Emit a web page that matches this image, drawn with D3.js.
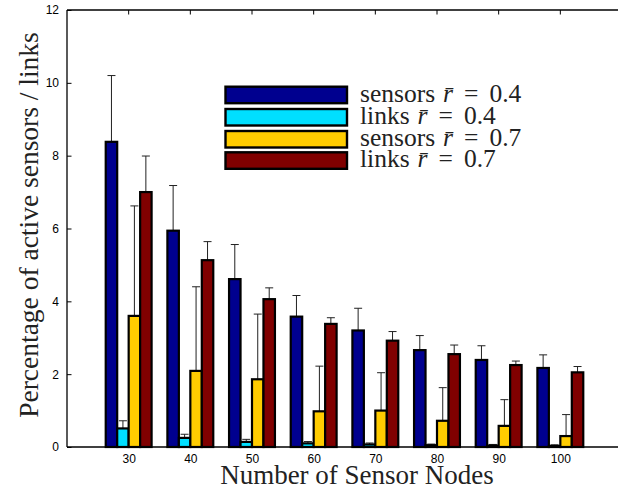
<!DOCTYPE html>
<html>
<head>
<meta charset="utf-8">
<script src="https://cdn.jsdelivr.net/npm/d3@7"></script>
<style>
  html, body { margin: 0; padding: 0; background: #fff; }
  svg { display: block; }
</style>
</head>
<body>
<svg id="chart" width="618" height="491"></svg>
<script>
// ---- data ----
const nodes = [30, 40, 50, 60, 70, 80, 90, 100];
const seriesNames = ["sensors r\u0304 = 0.4", "links r\u0304 = 0.4", "sensors r\u0304 = 0.7", "links r\u0304 = 0.7"];
const sensors04 = [8.38, 5.94, 4.61, 3.58, 3.20, 2.66, 2.39, 2.17];
const links04   = [0.51, 0.25, 0.14, 0.10, 0.07, 0.05, 0.04, 0.03];
const sensors07 = [3.60, 2.09, 1.86, 0.98, 1.00, 0.72, 0.58, 0.30];
const links07   = [7.00, 5.13, 4.06, 3.38, 2.92, 2.55, 2.25, 2.05];
const sensors04Err = [1.82, 1.24, 0.95, 0.58, 0.61, 0.40, 0.39, 0.36];
const links04Err   = [0.21, 0.10, 0.07, 0.05, 0.04, 0.03, 0.03, 0.03];
const sensors07Err = [3.02, 2.31, 1.79, 1.24, 1.04, 0.91, 0.72, 0.59];
const links07Err   = [0.99, 0.51, 0.31, 0.17, 0.25, 0.25, 0.11, 0.16];
const yTicks = [0, 2, 4, 6, 8, 10, 12];
const colors = ["#00008F", "#00DFFF", "#FFCC00", "#800000"];

const values = [sensors04, links04, sensors07, links07];
const errors = [sensors04Err, links04Err, sensors07Err, links07Err];

// ---- layout ----
const svg = d3.select("#chart");
const mLeft = 67, mRight = 622, mTop = 10, mBottom = 447;

const x = d3.scaleLinear().domain([20, 110]).range([mLeft, mRight]);
const y = d3.scaleLinear().domain([0, 12]).range([mBottom, mTop]);

const step = x(nodes[1]) - x(nodes[0]);
const barW = step * 0.186;

// bars
const g = svg.append("g");
values.forEach((vals, s) => {
  const off = (s - 2) * barW;
  const grp = g.append("g");
  grp.selectAll("line.err").data(nodes).enter().append("line")
    .attr("x1", d => x(d) + off + barW / 2)
    .attr("x2", d => x(d) + off + barW / 2)
    .attr("y1", (d, i) => y(vals[i]))
    .attr("y2", (d, i) => y(vals[i] + errors[s][i]))
    .attr("stroke", "#222").attr("stroke-width", 1);
  grp.selectAll("line.cap").data(nodes).enter().append("line")
    .attr("x1", d => x(d) + off + barW / 2 - 4)
    .attr("x2", d => x(d) + off + barW / 2 + 4)
    .attr("y1", (d, i) => y(vals[i] + errors[s][i]))
    .attr("y2", (d, i) => y(vals[i] + errors[s][i]))
    .attr("stroke", "#222").attr("stroke-width", 1);
  grp.selectAll("rect").data(nodes).enter().append("rect")
    .attr("x", d => x(d) + off)
    .attr("y", (d, i) => y(vals[i]))
    .attr("width", barW)
    .attr("height", (d, i) => y(0) - y(vals[i]))
    .attr("fill", colors[s])
    .attr("stroke", "#000")
    .attr("stroke-width", 2.2);
});

// axes lines
svg.append("line").attr("x1", mLeft).attr("x2", 618).attr("y1", mBottom).attr("y2", mBottom)
  .attr("stroke", "#000").attr("stroke-width", 1.3);
svg.append("line").attr("x1", mLeft).attr("x2", 618).attr("y1", mTop).attr("y2", mTop)
  .attr("stroke", "#000").attr("stroke-width", 1.3);
svg.append("line").attr("x1", mLeft).attr("x2", mLeft).attr("y1", mTop).attr("y2", mBottom)
  .attr("stroke", "#000").attr("stroke-width", 1.3);

// y ticks (inward) + labels
const yAxis = d3.axisLeft(y).tickValues(yTicks).tickSizeInner(-4.5).tickSizeOuter(0).tickPadding(8);
const ya = svg.append("g").attr("transform", `translate(${mLeft},0)`).call(yAxis);
ya.select(".domain").remove();
ya.selectAll("text").attr("font-family", "Liberation Sans, Arial, sans-serif").attr("font-size", 12).attr("fill", "#000");
ya.selectAll("line").attr("stroke", "#000");

// x labels bottom
const xAxis = d3.axisBottom(x).tickValues(nodes).tickSize(0).tickPadding(7.5).tickFormat(d3.format("d"));
const xa = svg.append("g").attr("transform", `translate(0,${mBottom})`).call(xAxis);
xa.select(".domain").remove();
xa.selectAll("text").attr("font-family", "Liberation Sans, Arial, sans-serif").attr("font-size", 12).attr("fill", "#000");

// top ticks (inward)
svg.append("g").selectAll("line").data(nodes).enter().append("line")
  .attr("x1", d => x(d)).attr("x2", d => x(d))
  .attr("y1", mTop).attr("y2", mTop + 4.5)
  .attr("stroke", "#000").attr("stroke-width", 1);

// axis titles
svg.append("text")
  .attr("transform", "translate(38,225) rotate(-90)")
  .attr("text-anchor", "middle")
  .attr("font-family", "Liberation Serif, Times New Roman, serif")
  .attr("font-size", 27.5).attr("fill", "#222")
  .text("Percentage of active sensors / links");

svg.append("text")
  .attr("x", 357).attr("y", 484)
  .attr("text-anchor", "middle")
  .attr("font-family", "Liberation Serif, Times New Roman, serif")
  .attr("font-size", 27).attr("fill", "#222")
  .text("Number of Sensor Nodes");

// legend
const legTop = [86.7, 109, 131, 152.3];
const leg = svg.append("g");
seriesNames.forEach((name, s) => {
  leg.append("rect")
    .attr("x", 225.5).attr("y", legTop[s])
    .attr("width", 121.5).attr("height", 16.5)
    .attr("fill", colors[s]).attr("stroke", "#000").attr("stroke-width", 2.4);
  const parts = name.split(" ");
  const t = leg.append("text")
    .attr("x", 360).attr("y", legTop[s] + 15)
    .attr("font-family", "Liberation Serif, Times New Roman, serif")
    .attr("font-size", 25.5).attr("fill", "#222");
  t.append("tspan").text(parts[0]);
  t.append("tspan").attr("dx", 8).attr("font-style", "italic").text(parts[1]);
  t.append("tspan").attr("dx", 11).text(parts[2]);
  t.append("tspan").attr("dx", 11).text(parts[3]);
});
</script>
</body>
</html>
